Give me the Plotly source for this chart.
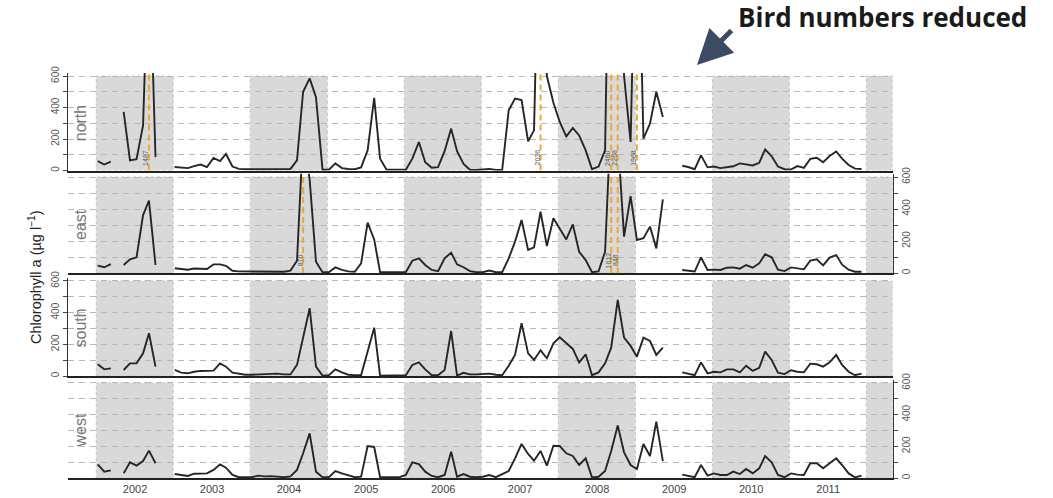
import pandas as pd
import plotly.graph_objects as go

# ---------------- data (monthly samples, Jul 2001 - Jun 2011) ----------------
sample_dates = pd.date_range("2001-07-01", periods=120, freq="MS") + pd.Timedelta(days=7)

north = [
    59, 38, 57, None, 372, 64, 72, 287, 1487, 85, None, None,
    22, 20, 15, 28, 38, 22, 80, 60, 105, 25, 10, 8,
    8, 10, 10, 12, 12, 10, 10, 64, 500, 585, 466, 5,
    5, 45, 15, 10, 8, 20, 128, 461, 75, 5, 5, 5,
    5, 75, 181, 53, 17, 21, 123, 266, 123, 42, 5, 3,
    5, 10, 3, 3, 383, 457, 447, 185, 255, 2036, 600, 430,
    308, 217, 270, 223, 128, 8, 25, 128, 2460, 2268, 600, 181,
    1968, 202, 298, 500, 340, None, None, 30, 22, 8, 96, 20,
    25, 15, 20, 27, 45, 40, 32, 49, 134, 90, 25, 8,
    6, 28, 17, 74, 81, 53, 92, 121, 75, 35, 12, 10,
]
east = [
    46, 36, 56, None, 50, 86, 98, 362, 452, 50, None, None,
    30, 27, 20, 28, 28, 25, 54, 54, 45, 14, 10, 10,
    8, 8, 8, 10, 10, 8, 15, 77, 870, 585, 71, 5,
    5, 35, 20, 10, 8, 60, 315, 210, 5, 5, 5, 5,
    5, 77, 92, 50, 19, 12, 92, 127, 54, 36, 12, 5,
    5, 15, 5, 5, 92, 196, 331, 144, 160, 383, 169, 342,
    279, 210, 304, 133, 81, 5, 10, 133, 1012, 846, 227, 481,
    206, 217, 290, 154, 460, None, None, 19, 12, 9, 97, 19,
    21, 19, 33, 35, 27, 50, 33, 60, 117, 98, 21, 12,
    35, 27, 23, 77, 85, 48, 96, 112, 52, 21, 8, 8,
]
south = [
    74, 42, 48, None, 38, 80, 80, 143, 270, 59, None, None,
    38, 21, 17, 27, 32, 32, 34, 80, 59, 21, 13, 8,
    8, 10, 12, 15, 15, 10, 10, 70, 238, 428, 59, 2,
    5, 42, 23, 8, 5, 5, 155, 305, 2, 3, 3, 3,
    5, 70, 86, 42, 5, 5, 38, 284, 3, 20, 10, 10,
    12, 15, 8, 5, 65, 133, 333, 143, 101, 162, 112, 206,
    245, 206, 171, 86, 137, 5, 23, 80, 179, 480, 242, 190,
    122, 242, 221, 133, 179, None, None, 23, 15, 5, 86, 17,
    27, 23, 42, 42, 23, 65, 32, 52, 154, 101, 21, 12,
    36, 27, 23, 78, 74, 59, 86, 133, 70, 27, 5, 15,
]
west = [
    86, 40, 48, None, 30, 99, 78, 107, 173, 93, None, None,
    25, 19, 13, 27, 27, 29, 51, 86, 65, 19, 5, 5,
    5, 15, 10, 12, 8, 5, 10, 51, 156, 282, 40, 5,
    5, 44, 29, 19, 5, 8, 202, 196, 5, 5, 5, 5,
    19, 99, 88, 40, 13, 5, 19, 166, 8, 25, 8, 5,
    8, 19, 5, 25, 44, 124, 215, 152, 109, 171, 78, 204,
    202, 156, 139, 82, 124, 4, 8, 44, 171, 331, 162, 82,
    57, 215, 139, 356, 107, None, None, 21, 12, 5, 82, 15,
    29, 19, 19, 40, 25, 57, 29, 61, 139, 99, 19, 5,
    29, 21, 19, 93, 93, 61, 93, 124, 82, 29, 4, 15,
]

panel_names = ["north", "east", "south", "west"]
panel_values = [north, east, south, west]
panel_sides = ["left", "right", "left", "right"]
shaded_starts = ["2001-07-01", "2003-07-01", "2005-07-01", "2007-07-01", "2009-07-01", "2011-07-01"]
y_ticks = [0, 100, 200, 300, 400, 500, 600]
y_ticktext = ["0", "", "200", "", "400", "", "600"]
y_label = "Chlorophyll a (µg l<sup>−1</sup>)"
note_text = "<b>Bird numbers reduced</b>"

# ---------------- layout geometry ----------------
W, H = 1053, 498
x_start, x_end = "2001-02-17", "2011-11-03"
y_top = 620
# panel pixel extents (top of range, bottom=0)
panel_px = [(72.9, 170.5), (173.8, 273.0), (277.8, 376.0), (379.8, 478.0)]
xdom = [68 / W, 892.7 / W]

fig = go.Figure()
layout = dict(
    width=W, height=H,
    margin=dict(l=0, r=0, t=0, b=0, pad=0, autoexpand=False),
    paper_bgcolor="white", plot_bgcolor="white", showlegend=False,
    font=dict(family="Liberation Sans, Arial, sans-serif", color="#444"),
)
shapes, annotations = [], []
end_ts = pd.Timestamp(x_end)

for k, (name, vals, side, (ptop, pbot)) in enumerate(
        zip(panel_names, panel_values, panel_sides, panel_px), start=1):
    xa, ya = f"x{k}", f"y{k}"
    xkey = "xaxis" if k == 1 else f"xaxis{k}"
    ykey = "yaxis" if k == 1 else f"yaxis{k}"
    layout[xkey] = dict(
        domain=xdom, anchor=ya, type="date", range=[x_start, x_end],
        showline=True, linewidth=2.2, linecolor="#222", showgrid=False,
        zeroline=False, ticks="", showticklabels=(k == 4), automargin=False,
        tick0="2002-01-01", dtick="M12", tickformat="%Y",
        tickfont=dict(size=11, color="#444"),
        **({} if k == 1 else dict(matches="x")),
    )
    layout[ykey] = dict(
        domain=[1 - pbot / H, 1 - ptop / H], anchor=xa, side=side,
        range=[0, y_top], tickmode="array", tickvals=y_ticks, ticktext=y_ticktext,
        ticks="outside", ticklen=4, tickcolor="#444", tickangle=-90,
        tickfont=dict(size=10, color="#555"), automargin=False,
        showline=True, linecolor="#333", linewidth=1,
        showgrid=True, gridcolor="#b8b8b8", gridwidth=1, griddash="6px,5px",
        zeroline=False,
    )
    fig.add_trace(go.Scatter(
        x=sample_dates, y=vals, mode="lines", connectgaps=False,
        line=dict(color="#262626", width=1.9), xaxis=xa, yaxis=ya,
        hoverinfo="skip",
    ))
    # shaded years
    for s in shaded_starts:
        x0 = pd.Timestamp(s)
        x1 = min(x0 + pd.DateOffset(years=1), end_ts)
        shapes.append(dict(
            type="rect", xref=xa, yref=ya, x0=x0, x1=x1, y0=0, y1=600,
            fillcolor="#d9d9d9", line=dict(color="#c4c4c4", width=1, dash="dot"),
            layer="below",
        ))
    # off-scale peaks: orange dashed line + value label
    for d, v in zip(sample_dates, vals):
        if v is not None and v > 600:
            shapes.append(dict(
                type="line", xref=xa, yref=ya, x0=d, x1=d, y0=0, y1=y_top,
                line=dict(color="#f0a830", width=2, dash="6px,4px"), layer="above",
            ))
            annotations.append(dict(
                xref=xa, yref=ya, x=d, y=80, text=str(v), showarrow=False,
                textangle=-90, xshift=-3, font=dict(size=7, color="#555"),
            ))
    # panel name
    annotations.append(dict(
        xref="paper", yref=ya, x=80 / W, y=300, text=name, showarrow=False,
        xanchor="center", yanchor="middle",
        textangle=-90, font=dict(size=16, color="#777"),
    ))

annotations.append(dict(
    xref="paper", yref="paper", x=35 / W, y=1 - 277 / H, text=y_label,
    xanchor="center", yanchor="middle",
    showarrow=False, textangle=-90, font=dict(size=14.5, color="#222"),
))
annotations.append(dict(
    xref="paper", yref="paper", x=882 / W, y=1 - 17 / H, text=note_text,
    xanchor="center", yanchor="middle",
    showarrow=False, font=dict(family="Open Sans, sans-serif", size=26, color="#1a1a1a"),
))
annotations.append(dict(
    xref="paper", yref="paper", x=697 / W, y=1 - 65 / H, text=" ",
    showarrow=True, axref="pixel", ayref="pixel", ax=36, ay=-36,
    arrowcolor="#3c4a63", arrowwidth=5, arrowhead=2, arrowsize=1.4,
    font=dict(size=1),
))

layout["shapes"] = shapes
layout["annotations"] = annotations
fig.update_layout(**layout)
fig.write_html(
    "out.html",
    config={"displayModeBar": False, "staticPlot": True},
    post_script="document.body.style.margin='0px';document.body.style.overflow='hidden';",
)
